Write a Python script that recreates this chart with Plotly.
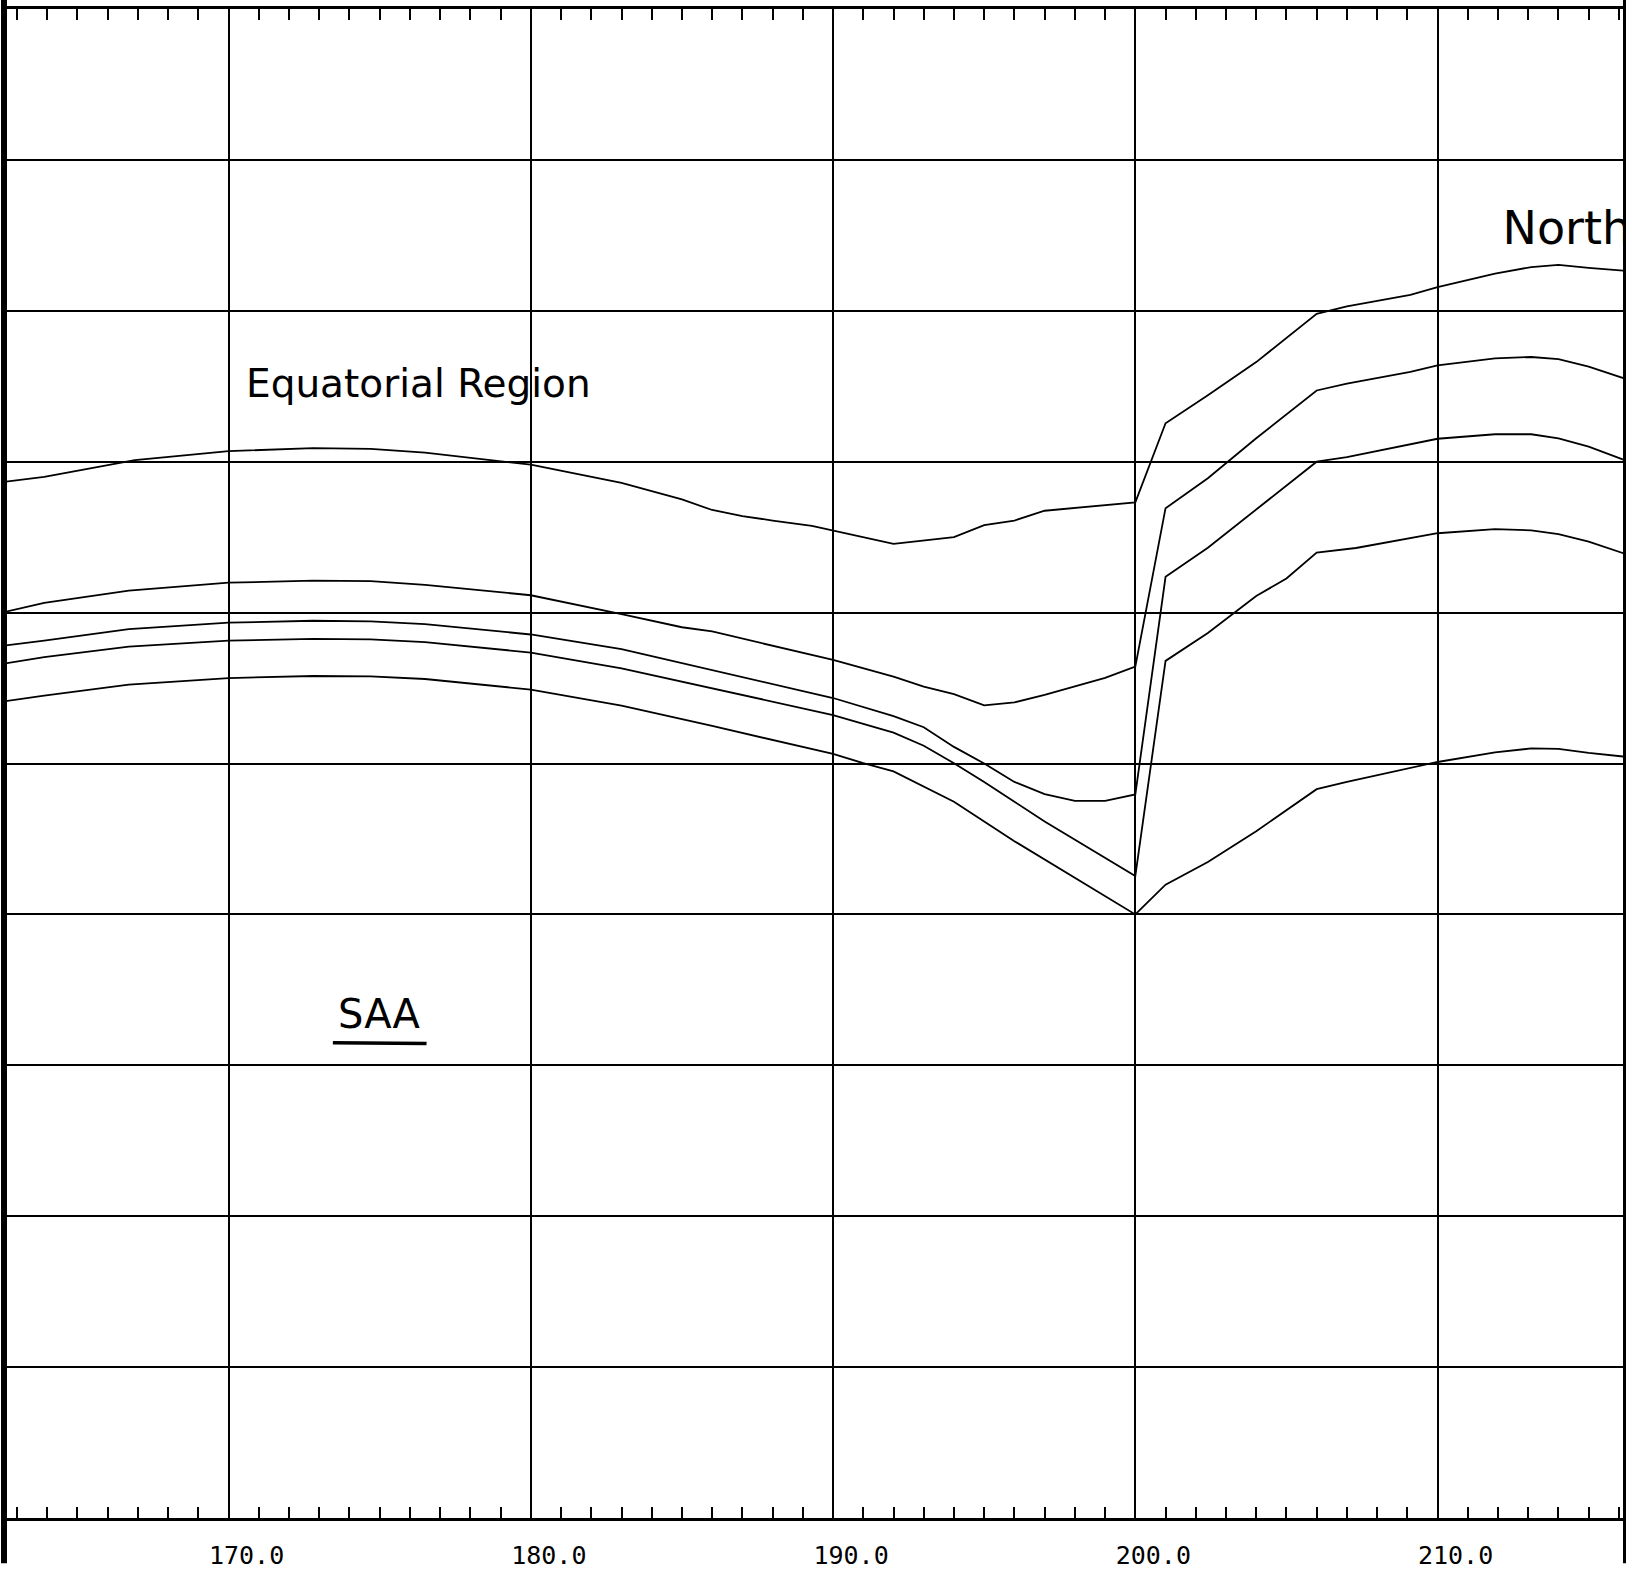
import plotly.graph_objects as go

# Curve samples: x positions and values in grid units (0 = bottom frame, 10 = top frame)
a_x = [162.5, 163.9, 166.9, 170, 172.8, 174.7, 176.5, 180, 183, 185, 186, 187, 188, 189.3, 192,
       194, 195, 196, 197, 198, 199, 200, 201, 202.4, 204, 206, 207, 209.1, 210, 211.9, 213.1,
       214, 215, 216.2]
a_y = [6.865, 6.90, 7.01, 7.07, 7.09, 7.085, 7.06, 6.98, 6.86, 6.75, 6.68, 6.64, 6.61, 6.575, 6.456,
       6.50, 6.58, 6.61, 6.675, 6.694, 6.716, 6.73, 7.255, 7.44, 7.66, 7.98, 8.03, 8.105, 8.157, 8.246,
       8.29, 8.305, 8.285, 8.265]

b_x = [162.5, 163.9, 166.7, 170, 172.8, 174.7, 176.5, 180, 183, 185, 186, 190, 192, 193, 194, 195,
       196, 197, 199, 200, 201, 202.4, 204, 206, 207, 209.1, 210, 211.9, 213.1, 214, 215, 216.2]
b_y = [6.0, 6.065, 6.145, 6.198, 6.212, 6.208, 6.184, 6.115, 5.99, 5.903, 5.875, 5.686, 5.575, 5.51,
       5.46, 5.385, 5.405, 5.455, 5.567, 5.642, 6.692, 6.89, 7.155, 7.472, 7.517, 7.596, 7.639, 7.685,
       7.694, 7.68, 7.63, 7.55]

c_x = [162.5, 163.9, 166.7, 170, 172.8, 174.7, 176.5, 180, 183, 186, 190, 192, 193, 194, 195, 196,
       197, 198, 199, 200, 201, 202.4, 204.8, 206, 207, 210, 211.9, 213.1, 214, 215, 216.2]
c_y = [5.78, 5.815, 5.89, 5.933, 5.946, 5.942, 5.924, 5.855, 5.758, 5.62, 5.434, 5.314, 5.24, 5.11,
       5.0, 4.878, 4.797, 4.752, 4.752, 4.795, 6.237, 6.43, 6.81, 7.0, 7.03, 7.152, 7.182, 7.182,
       7.155, 7.10, 7.01]

d_x = [162.5, 163.9, 166.7, 170, 172.8, 174.7, 176.5, 180, 183, 186, 190, 192, 193, 194, 195, 196,
       197, 200, 201, 202.4, 204, 205, 206, 207.3, 210, 211.9, 213.1, 214, 215, 216.2]
d_y = [5.66, 5.705, 5.775, 5.814, 5.826, 5.822, 5.805, 5.735, 5.631, 5.5, 5.321, 5.205, 5.118, 5.002,
       4.878, 4.747, 4.616, 4.255, 5.68, 5.865, 6.11, 6.226, 6.397, 6.428, 6.526, 6.553, 6.545, 6.52,
       6.47, 6.39]

e_x = [162.5, 163.9, 166.7, 170, 172.8, 174.7, 176.5, 180, 183, 186, 190, 191, 192, 194, 196, 197,
       200, 201, 202.4, 204, 206, 207, 210, 211.9, 213.1, 214, 215, 216.2]
e_y = [5.41, 5.45, 5.523, 5.566, 5.58, 5.577, 5.56, 5.49, 5.384, 5.249, 5.063, 5.002, 4.948, 4.747,
       4.485, 4.365, 4.0, 4.197, 4.347, 4.551, 4.83, 4.878, 5.01, 5.073, 5.1, 5.097, 5.07, 5.045]

curves = [(a_x, a_y), (b_x, b_y), (c_x, c_y), (d_x, d_y), (e_x, e_y)]

x_ticks = [170, 180, 190, 200, 210]

# Region labels: (text, x, y)
label_equatorial = ("Equatorial Region", 170.5, 7.52)
label_saa = ("SAA", 173.55, 3.34)
label_north = ("North", 212.15, 8.52)

INK = "black"
HAND_FONT = "DejaVu Sans"

fig = go.Figure()

for cx, cy in curves:
    fig.add_trace(go.Scatter(x=cx, y=cy, mode="lines",
                             line=dict(color=INK, width=1.8), showlegend=False,
                             hoverinfo="skip"))

# "North" sits against the right frame and is cut off by it
fig.add_trace(go.Scatter(x=[label_north[1]], y=[label_north[2]], mode="text",
                         text=[label_north[0]], textposition="middle right",
                         textfont=dict(family=HAND_FONT, size=46, color=INK),
                         cliponaxis=True, showlegend=False, hoverinfo="skip"))

fig.add_annotation(x=label_equatorial[1], y=label_equatorial[2], text=label_equatorial[0],
                   xanchor="left", yanchor="middle", showarrow=False,
                   font=dict(family=HAND_FONT, size=39, color=INK))
fig.add_annotation(x=label_saa[1], y=label_saa[2], text=label_saa[0],
                   xanchor="left", yanchor="middle", showarrow=False,
                   font=dict(family=HAND_FONT, size=40, color=INK))
# hand-drawn style underline beneath "SAA"
fig.add_shape(type="line", xref="x", yref="y",
              x0=label_saa[1] - 0.1, x1=label_saa[1] + 3.0,
              y0=label_saa[2] - 0.19, y1=label_saa[2] - 0.195,
              line=dict(color=INK, width=3.5))

# heavy left and right frame edges
fig.add_shape(type="line", xref="paper", yref="paper", x0=0, x1=0, y0=-0.03, y1=1.01,
              line=dict(color=INK, width=6))
fig.add_shape(type="rect", xref="paper", yref="paper", x0=1.0, x1=1.03, y0=-0.03, y1=1.01,
              fillcolor=INK, line=dict(width=0))

fig.update_xaxes(range=[162.57, 216.135], tickvals=x_ticks, tickformat=".1f",
                 showgrid=True, gridcolor=INK, gridwidth=1.8, zeroline=False,
                 showline=True, linecolor=INK, linewidth=2.5, mirror="ticks",
                 ticks="inside", ticklen=11, tickwidth=2, tickcolor=INK,
                 minor=dict(ticks="inside", dtick=1, tick0=170, ticklen=11, tickwidth=2,
                            tickcolor=INK, showgrid=False),
                 tickfont=dict(family="DejaVu Sans Mono", size=25, color=INK),
                 ticklabelshift=18, ticklabelstandoff=13)
fig.update_yaxes(range=[0, 10], dtick=1, tick0=0, showticklabels=False,
                 showgrid=True, gridcolor=INK, gridwidth=1.8, zeroline=False,
                 showline=False, ticks="")

fig.update_layout(width=1626, height=1573, autosize=False,
                  margin=dict(l=4, r=3, t=9, b=34),
                  paper_bgcolor="white", plot_bgcolor="white")

fig.write_html("out.html")
